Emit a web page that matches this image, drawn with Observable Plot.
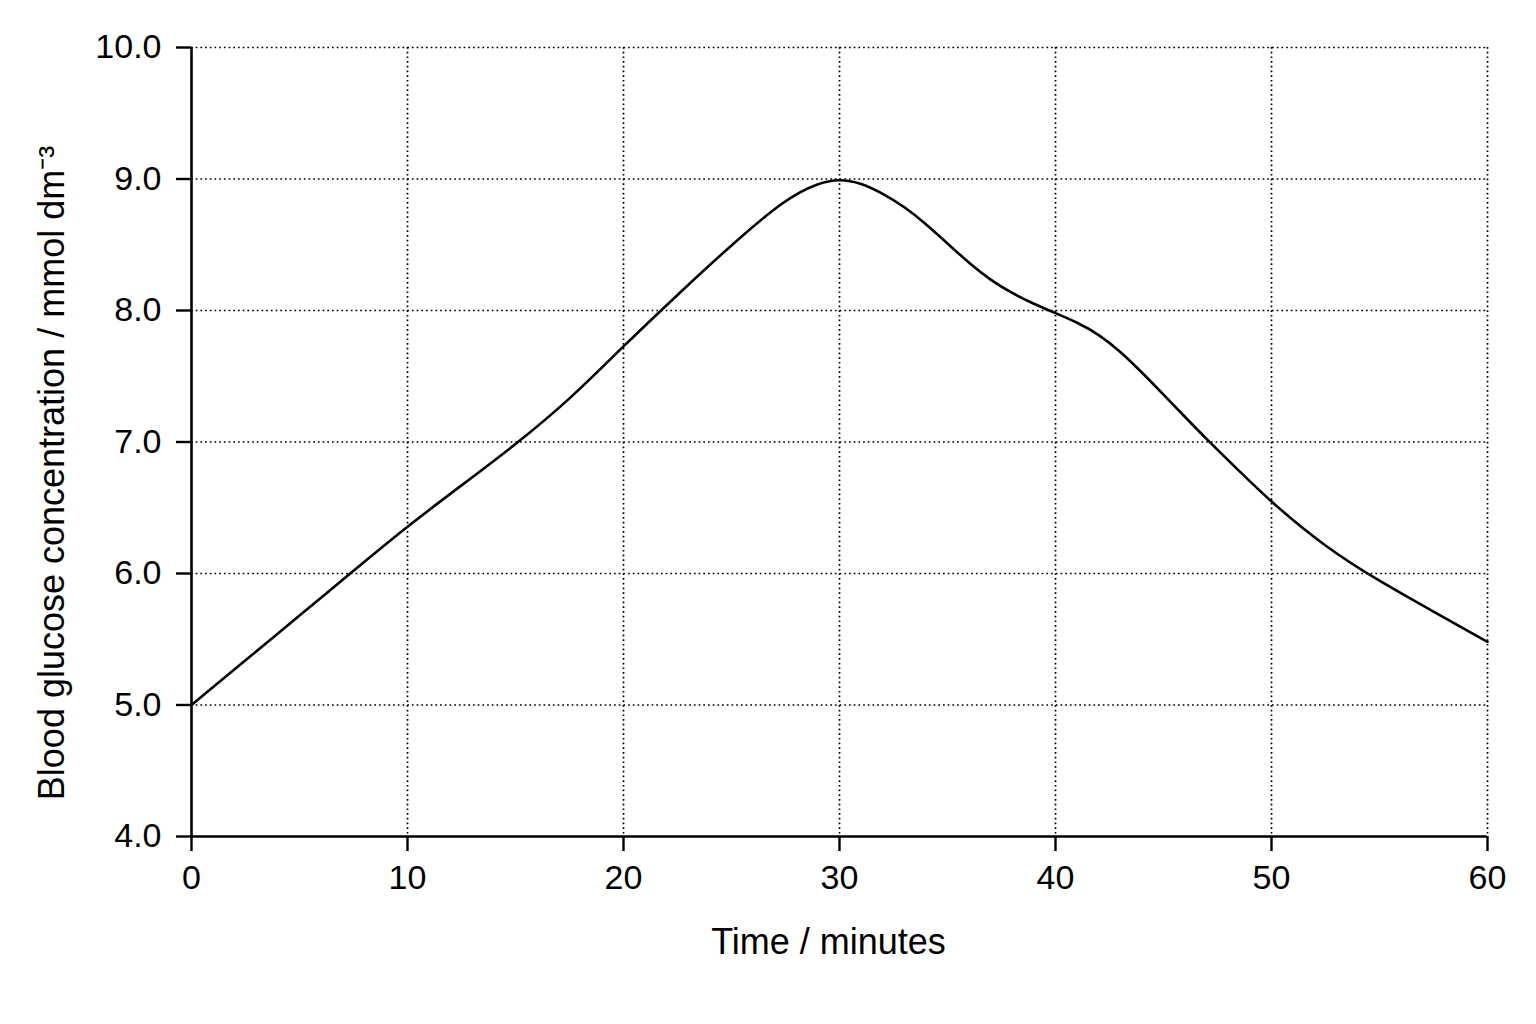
<!DOCTYPE html>
<html>
<head>
<meta charset="utf-8">
<script src="https://cdn.jsdelivr.net/npm/d3@7"></script>
<script src="https://cdn.jsdelivr.net/npm/@observablehq/plot@0.6"></script>
<style>
  html, body { margin: 0; padding: 0; background: #fff; }
  #chart svg { display: block; }
</style>
</head>
<body>
<div id="chart"></div>
<script>
const times = [0, 2.5, 5, 7.5, 10, 12.5, 15, 17.5, 20, 22.5, 25, 27.5, 29, 30, 31, 32, 33, 34, 35, 36, 37, 38, 39, 40, 41, 42, 43, 44, 45, 46, 47, 48.5, 50, 52.5, 55, 57.5, 60];
const glucose = [5.0, 5.34, 5.68, 6.02, 6.36, 6.67, 6.98, 7.32, 7.73, 8.12, 8.50, 8.85, 8.97, 9.0, 8.97, 8.89, 8.79, 8.66, 8.51, 8.36, 8.23, 8.13, 8.05, 7.98, 7.91, 7.82, 7.69, 7.53, 7.36, 7.19, 7.02, 6.78, 6.54, 6.2, 5.94, 5.71, 5.48];
const xTicks = [0, 10, 20, 30, 40, 50, 60];
const yTicks = [4, 5, 6, 7, 8, 9, 10];
const xLabel = "Time / minutes";
const yLabel = "Blood glucose concentration / mmol dm⁻³";

const data = times.map((t, i) => ({t, g: glucose[i]}));
const font = "'Liberation Sans', Arial, Helvetica, sans-serif";

const chart = Plot.plot({
  width: 1536,
  height: 1024,
  marginLeft: 191,
  marginRight: 49,
  marginTop: 47,
  marginBottom: 188,
  style: {fontFamily: font, fontSize: "34px", color: "#000", background: "#fff"},
  x: {domain: [0, 60], ticks: xTicks, label: null},
  y: {domain: [4, 10], ticks: yTicks, label: null},
  marks: [
    Plot.gridX(xTicks.filter(d => d > 0), {stroke: "#000", strokeOpacity: 1, strokeWidth: 1.7, strokeDasharray: "1.7,3"}),
    Plot.gridY(yTicks.filter(d => d > 4), {stroke: "#000", strokeOpacity: 1, strokeWidth: 1.7, strokeDasharray: "1.7,3"}),
    Plot.axisX({ticks: xTicks, tickSize: 15, tickPadding: 13, tickFormat: d => String(d), strokeWidth: 2.4, fontSize: 34, label: null}),
    Plot.axisY({ticks: yTicks, tickSize: 15, tickPadding: 15, tickFormat: d => d.toFixed(1), strokeWidth: 2.4, fontSize: 34, label: null}),
    Plot.ruleX([0], {stroke: "#000", strokeWidth: 2.6}),
    Plot.ruleY([4], {stroke: "#000", strokeWidth: 2.6}),
    Plot.line(data, {x: "t", y: "g", curve: "basis", stroke: "#000", strokeWidth: 2.6}),
    Plot.text([xLabel], {text: d => d, frameAnchor: "bottom", textAnchor: "middle", lineAnchor: "middle", dx: -11, dy: 106, fontSize: 36, fill: "#000"}),
    Plot.text([yLabel], {text: d => d, frameAnchor: "left", textAnchor: "middle", lineAnchor: "middle", rotate: -90, dx: -139, dy: 31, fontSize: 36, fill: "#000"})
  ]
});
document.getElementById("chart").appendChild(chart);
</script>
</body>
</html>
